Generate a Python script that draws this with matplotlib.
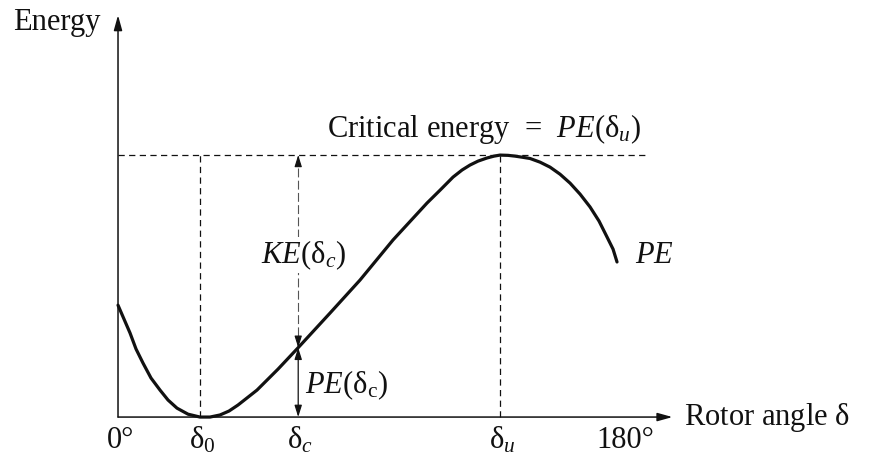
import matplotlib
matplotlib.use("Agg")
import matplotlib.pyplot as plt

plt.rcParams["font.family"] = ["Liberation Serif", "DejaVu Serif"]
plt.rcParams["mathtext.fontset"] = "custom"
plt.rcParams["mathtext.rm"] = "Liberation Serif"
plt.rcParams["mathtext.it"] = "Liberation Serif:italic"

# Potential energy curve versus rotor angle (degrees), energy relative to PE(delta_u)
angle_deg = [0, 2.16, 4.33, 6.49, 9.02, 11.90, 15.15, 18.04, 21.28, 25.25, 29.58,
             33.19, 36.80, 40.04, 43.29, 46.54, 50.14, 57.72, 65.0, 76.48, 87.3,
             99.2, 111.47, 116.16, 120.85, 124.1, 126.98, 129.87, 133.12, 135.64,
             137.8, 140.69, 143.22, 145.74, 148.63, 152.24, 155.84, 159.45, 163.06,
             166.67, 170.27, 173.52, 176.41, 178.57, 180.0]
pe = [0.427, 0.374, 0.321, 0.260, 0.206, 0.149, 0.103, 0.065, 0.034, 0.011, 0.0,
      0.0, 0.008, 0.023, 0.046, 0.073, 0.103, 0.183, 0.265, 0.397, 0.523,
      0.676, 0.817, 0.866, 0.916, 0.943, 0.962, 0.977, 0.989, 0.996,
      1.0, 0.999, 0.996, 0.992, 0.987, 0.973, 0.954, 0.927, 0.893,
      0.851, 0.802, 0.748, 0.687, 0.641, 0.592]

delta_0 = 29.6      # stable equilibrium
delta_c = 65.0      # clearing angle
delta_u = 137.8     # unstable equilibrium
pe_c = 0.265        # PE(delta_c)
pe_u = 1.0          # critical energy

tick_pos = [0, delta_0, delta_c, delta_u, 180]
tick_labels = ["0°", r"$\mathrm{\delta}_0$", r"$\mathrm{\delta}_c$", r"$\mathrm{\delta}_u$", "180°"]

fig = plt.figure(figsize=(8.74, 4.65), dpi=100)
ax = fig.add_axes([0, 0, 1, 1])
ax.set_xlim(-42.57, 272.7)
ax.set_ylim(-0.183, 1.592)
ax.axis("off")

FS = 22
black = "#111111"

# axes with arrows
ax.annotate("", xy=(0, 1.534), xytext=(0, 0),
            arrowprops=dict(arrowstyle="-|>,head_length=0.9,head_width=0.25",
                            color=black, lw=1.1, shrinkA=0, shrinkB=0))
ax.annotate("", xy=(200, 0), xytext=(0, 0),
            arrowprops=dict(arrowstyle="-|>,head_length=0.9,head_width=0.25",
                            color=black, lw=1.1, shrinkA=0, shrinkB=0))

# dashed guide lines
dash = dict(color=black, lw=0.9, dashes=(5, 3.5))
ax.plot([0, 190], [pe_u, pe_u], **dash)
ax.plot([delta_0, delta_0], [0, pe_u], **dash)
ax.plot([delta_u, delta_u], [0, pe_u], **dash)

# potential energy curve
ax.plot(angle_deg, pe, color=black, lw=2.3, solid_joinstyle="round",
        solid_capstyle="round", zorder=3)

# KE(delta_c): from curve up to critical energy
ax.plot([delta_c, delta_c], [pe_c, pe_u], color="#555555", lw=0.8, dashes=(8, 3))
head = dict(arrowstyle="-|>,head_length=0.7,head_width=0.22", color=black,
            lw=0.8, shrinkA=0, shrinkB=0)
ax.annotate("", xy=(delta_c, pe_u), xytext=(delta_c, pe_u - 0.04), arrowprops=head)
ax.annotate("", xy=(delta_c, pe_c), xytext=(delta_c, pe_c + 0.04), arrowprops=head)

# PE(delta_c): from axis up to curve
ax.annotate("", xy=(delta_c, pe_c), xytext=(delta_c, 0),
            arrowprops=dict(arrowstyle="<|-|>,head_length=0.7,head_width=0.22",
                            color=black, lw=0.9, shrinkA=0, shrinkB=0))

# labels
ax.text(-22.0, 1.508, "Energy", fontsize=FS, ha="center", va="center", color=black)
ax.text(204, -0.03, r"Rotor angle $\mathrm{\delta}$", fontsize=FS, ha="left",
        va="baseline", color=black)
ax.text(75.4, 1.069, r"Critical energy  =  $PE(\mathrm{\delta}_u)$", fontsize=FS,
        ha="left", va="baseline", color=black)
ax.text(186.5, 0.588, r"$PE$", fontsize=FS, ha="left", va="baseline", color=black)
ax.text(delta_c + 1.8, 0.588, r"$KE(\mathrm{\delta}_c)$", fontsize=FS, ha="center",
        va="baseline", color=black,
        bbox=dict(facecolor="white", edgecolor="none", pad=1))
ax.text(delta_c + 2.5, 0.092, r"$PE(\mathrm{\delta}_\mathrm{c})$", fontsize=FS,
        ha="left", va="baseline", color=black)

for pos, lab in zip(tick_pos, tick_labels):
    ax.text(pos + (3 if lab == "180°" else 0.8), -0.12, lab, fontsize=FS,
            ha="center", va="baseline", color=black)

fig.savefig("out.png", dpi=100)
